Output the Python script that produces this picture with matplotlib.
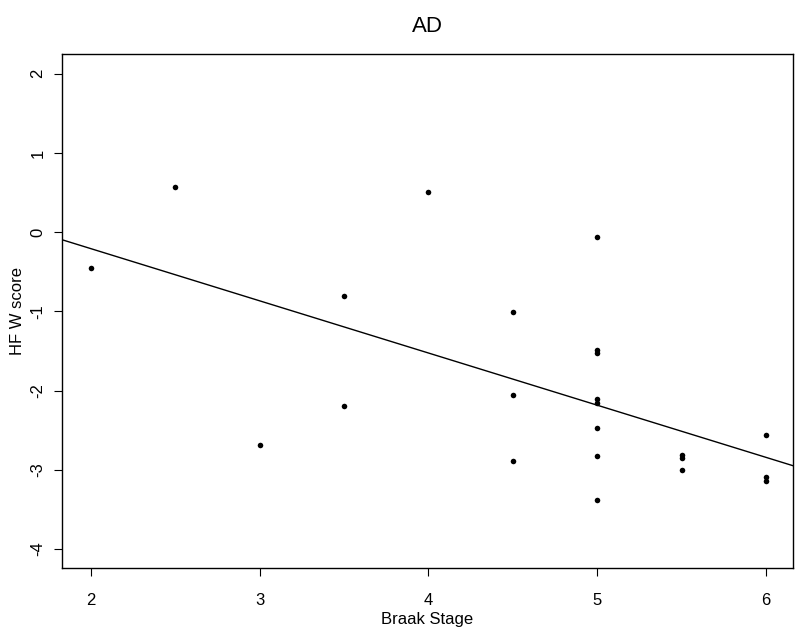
import matplotlib
matplotlib.use("Agg")
import matplotlib.pyplot as plt
import numpy as np

plt.rcParams['font.family'] = ['Liberation Sans', 'DejaVu Sans']

braak = [2, 2.5, 3, 3.5, 3.5, 4, 4.5, 4.5, 4.5,
         5, 5, 5, 5, 5, 5, 5, 5,
         5.5, 5.5, 5.5, 6, 6, 6]
hfw = [-0.45, 0.57, -2.69, -0.80, -2.19, 0.51, -1.01, -2.05, -2.89,
       -0.06, -1.49, -1.53, -2.10, -2.16, -2.47, -2.83, -3.38,
       -2.81, -2.85, -3.00, -2.56, -3.09, -3.14]
fit_intercept = 1.111
fit_slope = -0.659
xticks = [2, 3, 4, 5, 6]
yticks = [-4, -3, -2, -1, 0, 1, 2]

fig = plt.figure(figsize=(8.01, 6.33), dpi=100)
ax = fig.add_axes([62/801, 1-568/633, (793-62)/801, (568-54)/633])
xlim = (1.83, 6.16)
ylim = (-4.24, 2.25)
ax.scatter(braak, hfw, s=16, color='black', zorder=3, linewidths=0)
xs = np.array(xlim)
ax.plot(xs, fit_intercept + fit_slope * xs, color='black', lw=1.0)
ax.set_xlim(*xlim)
ax.set_ylim(*ylim)
ax.set_xticks(xticks)
ax.set_yticks(yticks)
ax.set_xticklabels([str(t) for t in xticks], fontsize=12)
ax.set_yticklabels([str(t) for t in yticks], fontsize=12, rotation=90, va='center')
ax.tick_params(axis='x', direction='out', length=6, width=0.8, pad=12)
ax.tick_params(axis='y', direction='out', length=6, width=0.8, pad=6)
for s in ax.spines.values():
    s.set_linewidth(1.0)
ax.set_xlabel('Braak Stage', fontsize=12, labelpad=3)
ax.set_ylabel('HF W score', fontsize=12, labelpad=4)
fig.text(0.5 * (62 + 793) / 801, 1 - 26/633, 'AD', ha='center', va='center', fontsize=16)
fig.savefig('out.png', dpi=100)
